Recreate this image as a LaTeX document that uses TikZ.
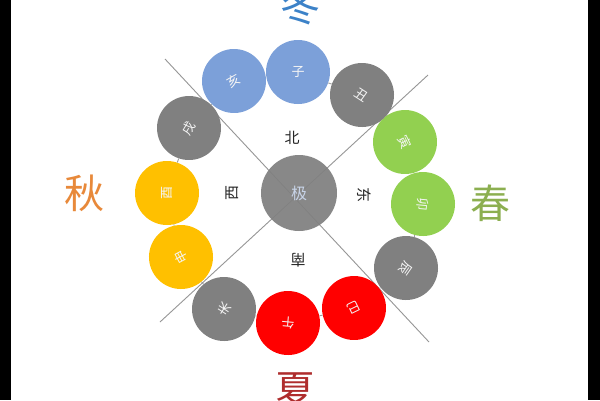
\documentclass[tikz,border=0pt]{standalone}
\usepackage{fontspec}
\newfontfamily\cjk{Noto Sans CJK SC}
\definecolor{cblue}{RGB}{124,160,217}
\definecolor{cgray}{RGB}{128,128,128}
\definecolor{cgreen}{RGB}{146,208,80}
\definecolor{cyellow}{RGB}{255,192,0}
\definecolor{cred}{RGB}{255,0,0}
\definecolor{sblue}{RGB}{60,130,200}
\definecolor{sorange}{RGB}{232,137,58}
\definecolor{sgreen}{RGB}{140,175,80}
\definecolor{sred}{RGB}{175,45,45}
\definecolor{linegray}{RGB}{150,150,150}
\definecolor{hubtext}{RGB}{200,212,232}
\tikzset{
  ball/.style={circle,minimum size=64pt,inner sep=0pt,text=white!92!gray,font=\cjk\fontsize{13}{13}\selectfont},
  hub/.style={circle,minimum size=76pt,inner sep=0pt,fill=cgray,fill opacity=0.93,text opacity=1,text=hubtext,font=\cjk\fontsize{16}{16}\selectfont},
  dirlab/.style={font=\cjk\fontsize{15}{15}\selectfont,text=black!85},
  season/.style={font=\cjk\fontsize{40}{40}\selectfont},
  ring/.style={draw=linegray,line width=0.8pt},
  diag/.style={draw=linegray,line width=0.9pt}
}
\begin{document}
\begin{tikzpicture}[x=1pt,y=-1pt]
\useasboundingbox (0,0) rectangle (600,400);
\fill[white] (0,0) rectangle (600,400);
\fill[black] (0,0) rectangle (11,400);
\fill[black] (588,0) rectangle (600,400);
% diagonal lines
\coordinate (d1a) at (165,59);
\coordinate (d1b) at (429,342);
\coordinate (d2a) at (428,75);
\coordinate (d2b) at (160,322);
\draw[diag] (d1a) -- (d1b);
\draw[diag] (d2a) -- (d2b);
% center
\node[hub] (ji) at (299,193) {极};
% twelve branches
\node[ball,fill=cblue,rotate=30] (hai) at (234,81) {亥};
\node[ball,fill=cblue,rotate=0] (zi) at (298,72) {子};
\node[ball,fill=cgray,rotate=-33] (chou) at (362,95) {丑};
\node[ball,fill=cgreen,rotate=-64] (yin) at (405,142) {寅};
\node[ball,fill=cgreen,rotate=-95] (mao) at (423,204) {卯};
\node[ball,fill=cgray,rotate=-125] (chen) at (406,268) {辰};
\node[ball,fill=cred,rotate=-154] (si) at (354,308) {巳};
\node[ball,fill=cred,rotate=175] (wu) at (288,323) {午};
\node[ball,fill=cgray,rotate=147] (wei) at (224,309) {未};
\node[ball,fill=cyellow,rotate=118] (shen) at (181,257) {申};
\node[ball,fill=cyellow,rotate=90] (you) at (167,193) {酉};
\node[ball,fill=cgray,rotate=59] (xu) at (189,128) {戌};
% ring connectors
\draw[ring] (hai) -- (zi);
\draw[ring] (zi) -- (chou);
\draw[ring] (chou) -- (yin);
\draw[ring] (yin) -- (mao);
\draw[ring] (mao) -- (chen);
\draw[ring] (chen) -- (si);
\draw[ring] (si) -- (wu);
\draw[ring] (wu) -- (wei);
\draw[ring] (wei) -- (shen);
\draw[ring] (shen) -- (you);
\draw[ring] (you) -- (xu);
\draw[ring] (xu) -- (hai);
% directions
\node[dirlab] (bei) at (292,138) {北};
\node[dirlab,rotate=90] (xi) at (232,193) {西};
\node[dirlab,rotate=-90] (dong) at (364,195) {东};
\node[dirlab,rotate=180] (nan) at (298,260) {南};
% seasons
\node[season,text=sblue] (dongj) at (300,6) {冬};
\node[season,text=sorange] (qiu) at (84,193) {秋};
\node[season,text=sgreen] (chun) at (490,203) {春};
\node[season,text=sred] (xia) at (295,390) {夏};
\end{tikzpicture}
\end{document}
